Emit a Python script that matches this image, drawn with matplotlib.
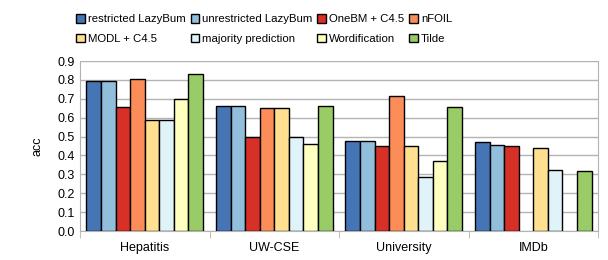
import matplotlib.pyplot as plt
import numpy as np

plt.rcParams['font.family'] = ['Liberation Sans', 'DejaVu Sans']

datasets = ['Hepatitis', 'UW-CSE', 'University', 'IMDb']
methods = ['restricted LazyBum', 'unrestricted LazyBum', 'OneBM + C4.5', 'nFOIL',
           'MODL + C4.5', 'majority prediction', 'Wordification', 'Tilde']

# accuracy per method, one value per dataset (nan = no result)
restricted_lazybum = [0.795, 0.66, 0.478, 0.471]
unrestricted_lazybum = [0.795, 0.66, 0.478, 0.455]
onebm_c45 = [0.655, 0.50, 0.450, 0.451]
nfoil = [0.805, 0.652, 0.716, np.nan]
modl_c45 = [0.590, 0.652, 0.450, 0.439]
majority = [0.590, 0.50, 0.287, 0.323]
wordification = [0.700, 0.460, 0.372, np.nan]
tilde = [0.830, 0.66, 0.656, 0.317]

series = [restricted_lazybum, unrestricted_lazybum, onebm_c45, nfoil,
          modl_c45, majority, wordification, tilde]
colors = ['#4575b4', '#91bfdb', '#d73027', '#fc8d59',
          '#fee090', '#e0f3f8', '#ffffbf', '#99cc66']

fig = plt.figure(figsize=(6.08, 2.6), dpi=100)
ax = fig.add_axes([80 / 608, 1 - 231 / 260, 518 / 608, 170 / 260])

x = np.arange(len(datasets))
width = 0.9 / len(methods)
for i, (vals, col, name) in enumerate(zip(series, colors, methods)):
    ax.bar(x - 0.45 + width * (i + 0.5), vals, width, color=col,
           edgecolor='black', linewidth=1.0, label=name, zorder=3)

ax.set_xlim(-0.5, len(datasets) - 0.5)
ax.set_ylim(0, 0.9)
ax.set_yticks(np.arange(0, 0.91, 0.1))
ax.set_yticklabels([f'{v:.1f}' for v in np.arange(0, 0.91, 0.1)])
ax.set_xticks(x)
ax.set_xticklabels(datasets)
ax.set_xticks(np.arange(-0.5, len(datasets)), minor=True)
ax.tick_params(axis='x', which='major', length=0, pad=8, labelsize=9)
ax.tick_params(axis='x', which='minor', length=5, color='#b3b3b3')
ax.tick_params(axis='y', length=0, pad=4, labelsize=9)
ax.yaxis.grid(True, color='#b3b3b3', linewidth=1.0, zorder=0)
ax.set_axisbelow(True)
for s in ax.spines.values():
    s.set_color('#b3b3b3')
ax.spines['top'].set_visible(False)
ax.set_ylabel('acc', fontsize=9, labelpad=10)

# legend fills row by row in the reference
handles, labels = ax.get_legend_handles_labels()
order = [0, 4, 1, 5, 2, 6, 3, 7]
fig.legend([handles[i] for i in order], [labels[i] for i in order],
           ncol=4, loc='upper left',
           bbox_to_anchor=(66 / 608, 1 - 4 / 260), frameon=False, fontsize=8.2,
           handlelength=0.75, handleheight=0.75, handletextpad=0.3,
           columnspacing=0.4, labelspacing=0.8)

fig.savefig('out.png', dpi=100)
